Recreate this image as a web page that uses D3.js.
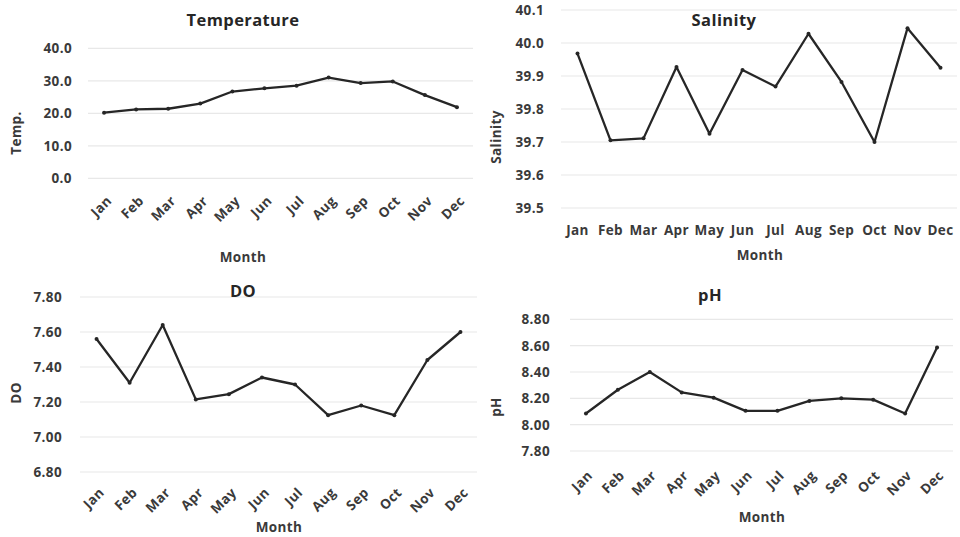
<!DOCTYPE html>
<html>
<head>
<meta charset="utf-8">
<script src="https://cdn.jsdelivr.net/npm/d3@7"></script>
<style>
  body { margin: 0; background: #fff; }
  text { font-family: "Open Sans", sans-serif; font-weight: 700; fill: #3a3a3a; letter-spacing: 0.4px; }
</style>
</head>
<body>
<svg id="chart" width="960" height="537"></svg>
<script>
// Monthly water-quality measurements
const months = ["Jan", "Feb", "Mar", "Apr", "May", "Jun", "Jul", "Aug", "Sep", "Oct", "Nov", "Dec"];
const temperature = [20.2, 21.2, 21.4, 23.0, 26.7, 27.7, 28.5, 31.0, 29.3, 29.8, 25.6, 21.9];
const salinity = [39.968, 39.705, 39.711, 39.927, 39.725, 39.918, 39.868, 40.028, 39.882, 39.700, 40.045, 39.925];
const dissolvedOxygen = [7.56, 7.31, 7.64, 7.215, 7.245, 7.34, 7.30, 7.125, 7.18, 7.125, 7.44, 7.60];
const ph = [8.085, 8.265, 8.40, 8.245, 8.205, 8.105, 8.105, 8.18, 8.20, 8.19, 8.085, 8.585];

const tempTicks = [0, 10, 20, 30, 40];
const salinityTicks = [39.5, 39.6, 39.7, 39.8, 39.9, 40.0, 40.1];
const doTicks = [6.8, 7.0, 7.2, 7.4, 7.6, 7.8];
const phTicks = [7.8, 8.0, 8.2, 8.4, 8.6, 8.8];

const svg = d3.select("#chart");
const labelSize = 13.5;

const panels = [
  { title: "Temperature", yTitle: "Temp.", values: temperature, ticks: tempTicks, fmt: ".1f",
    left: 88, right: 473, top: 48.3, bottom: 178.3, labelX: 72,
    titlePos: [243, 26], yTitlePos: [21, 133], monthPos: [243, 262],
    rotated: true, lab: [5, 20] },
  { title: "Salinity", yTitle: "Salinity", values: salinity, ticks: salinityTicks, fmt: ".1f",
    left: 561, right: 957, top: 10, bottom: 208, labelX: 544,
    titlePos: [724, 26], yTitlePos: [501, 137], monthPos: [760, 260],
    rotated: false, lab: [0, 235] },
  { title: "DO", yTitle: "DO", values: dissolvedOxygen, ticks: doTicks, fmt: ".2f",
    left: 80, right: 477, top: 297, bottom: 472, labelX: 62,
    titlePos: [243, 297], yTitlePos: [21, 393], monthPos: [279, 532],
    rotated: true, lab: [5, 18] },
  { title: "pH", yTitle: "pH", values: ph, ticks: phTicks, fmt: ".2f",
    left: 570, right: 953, top: 319.3, bottom: 451, labelX: 550,
    titlePos: [710, 301], yTitlePos: [501, 407], monthPos: [762, 522],
    rotated: true, lab: [4, 22] }
];

panels.forEach(p => {
  const g = svg.append("g");
  const x = d3.scalePoint().domain(months).range([p.left, p.right]).padding(0.5);
  const y = d3.scaleLinear().domain(d3.extent(p.ticks)).range([p.bottom, p.top]);

  // horizontal gridlines
  g.selectAll("line.grid").data(p.ticks).join("line")
    .attr("class", "grid")
    .attr("x1", p.left).attr("x2", p.right)
    .attr("y1", d => y(d)).attr("y2", d => y(d))
    .attr("stroke", "#e8e8e8").attr("stroke-width", 1.2);

  // y tick labels
  g.selectAll("text.ytick").data(p.ticks).join("text")
    .attr("class", "ytick")
    .attr("x", p.labelX).attr("y", d => y(d))
    .attr("dy", "0.36em")
    .attr("text-anchor", "end")
    .attr("font-size", labelSize)
    .text(d => d3.format(p.fmt)(d));

  // x tick labels
  if (p.rotated) {
    g.selectAll("text.xtick").data(months).join("text")
      .attr("class", "xtick")
      .attr("transform", d => `translate(${x(d) + p.lab[0]},${p.bottom + p.lab[1]}) rotate(-45)`)
      .attr("text-anchor", "end")
      .attr("dy", "0.36em")
      .attr("font-size", labelSize)
      .text(d => d);
  } else {
    g.selectAll("text.xtick").data(months).join("text")
      .attr("class", "xtick")
      .attr("x", d => x(d)).attr("y", p.lab[1])
      .attr("text-anchor", "middle")
      .attr("font-size", labelSize)
      .text(d => d);
  }

  // series line
  const line = d3.line().x((d, i) => x(months[i])).y(d => y(d));
  g.append("path").datum(p.values)
    .attr("d", line)
    .attr("fill", "none")
    .attr("stroke", "#262626")
    .attr("stroke-width", 2.3)
    .attr("stroke-linejoin", "round");

  g.selectAll("circle.pt").data(p.values).join("circle")
    .attr("class", "pt")
    .attr("cx", (d, i) => x(months[i])).attr("cy", d => y(d))
    .attr("r", 2).attr("fill", "#262626");

  // titles
  g.append("text")
    .attr("x", p.titlePos[0]).attr("y", p.titlePos[1])
    .attr("text-anchor", "middle").attr("font-size", 16.5)
    .style("fill", "#262626")
    .text(p.title);

  g.append("text")
    .attr("transform", `translate(${p.yTitlePos[0]},${p.yTitlePos[1]}) rotate(-90)`)
    .attr("text-anchor", "middle").attr("font-size", labelSize)
    .text(p.yTitle);

  g.append("text")
    .attr("x", p.monthPos[0]).attr("y", p.monthPos[1])
    .attr("text-anchor", "middle").attr("font-size", labelSize)
    .text("Month");
});
</script>
</body>
</html>
